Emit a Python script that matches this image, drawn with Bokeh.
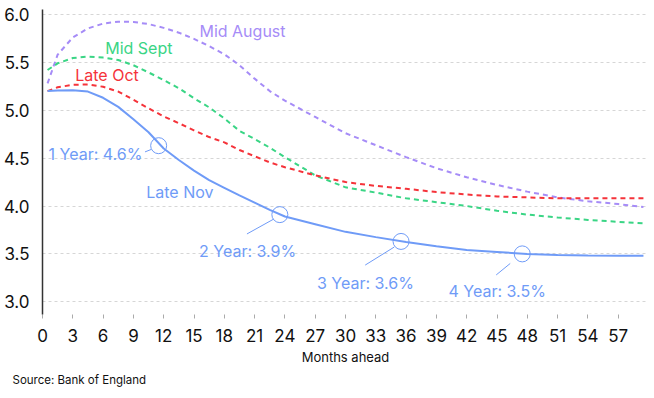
from bokeh.plotting import figure
from bokeh.models import Range1d, FixedTicker, PrintfTickFormatter, Label, Title
from bokeh.embed import file_html
from bokeh.resources import INLINE

months = [0.5, 1.5, 3, 4.5, 6, 7.5, 9, 10.5, 12, 13.5, 15, 16.5, 18, 19.5, 21, 22.5, 24,
          27, 30, 33, 36, 39, 42, 45, 48, 51, 54, 57, 59.5]
mid_august = [5.28, 5.58, 5.76, 5.855, 5.905, 5.925, 5.922, 5.90, 5.86, 5.81, 5.745, 5.67, 5.585,
              5.47, 5.33, 5.20, 5.10, 4.93, 4.76, 4.635, 4.51, 4.395, 4.30, 4.22, 4.15, 4.09,
              4.05, 4.02, 3.99]
mid_sept = [5.42, 5.49, 5.545, 5.56, 5.55, 5.525, 5.47, 5.395, 5.315, 5.23, 5.125, 5.03, 4.915,
            4.785, 4.70, 4.61, 4.51, 4.32, 4.195, 4.14, 4.08, 4.04, 4.00, 3.95, 3.91, 3.88,
            3.855, 3.835, 3.82]
late_oct = [5.20, 5.24, 5.265, 5.27, 5.245, 5.195, 5.11, 5.02, 4.935, 4.865, 4.79, 4.72, 4.665,
            4.585, 4.52, 4.455, 4.405, 4.32, 4.25, 4.21, 4.18, 4.145, 4.12, 4.10, 4.09, 4.08,
            4.08, 4.08, 4.08]
late_nov = [5.20, 5.205, 5.21, 5.195, 5.13, 5.035, 4.905, 4.77, 4.60, 4.48, 4.37, 4.27, 4.19,
            4.11, 4.035, 3.96, 3.89, 3.81, 3.73, 3.675, 3.625, 3.58, 3.54, 3.52, 3.50, 3.488,
            3.482, 3.48, 3.48]

marker_months = [11.5, 23.5, 35.5, 47.5]
marker_values = [4.63, 3.91, 3.63, 3.50]
marker_labels = ["1 Year: 4.6%", "2 Year: 3.9%", "3 Year: 3.6%", "4 Year: 3.5%"]

x_ticks = list(range(0, 58, 3))
y_ticks = [3.0, 3.5, 4.0, 4.5, 5.0, 5.5, 6.0]

FONT = "Inter"
PURPLE = "#a68cf7"
GREEN = "#3ad585"
RED = "#f5333a"
BLUE = "#6f9bf7"

p = figure(frame_width=606, frame_height=305, output_backend="svg", toolbar_location=None,
           x_range=Range1d(0, 60), y_range=Range1d(2.867, 6.052),
           min_border_left=34, min_border_right=4, min_border_top=9, min_border_bottom=0)
p.outline_line_color = None
p.background_fill_color = "white"
p.border_fill_color = "white"

p.xgrid.grid_line_color = None
p.ygrid.grid_line_color = "#d6d6d6"
p.ygrid.grid_line_dash = "3 3"
p.ygrid.grid_line_width = 1

p.yaxis.ticker = FixedTicker(ticks=y_ticks)
p.yaxis.formatter = PrintfTickFormatter(format="%.1f")
p.yaxis.axis_line_color = "#333333"
p.yaxis.axis_line_width = 1.5
p.yaxis.major_tick_line_color = None
p.yaxis.minor_tick_line_color = None
p.yaxis.major_label_text_font = FONT
p.yaxis.major_label_text_font_size = "17px"
p.yaxis.major_label_text_color = "#111111"
p.yaxis.major_label_standoff = 7

p.xaxis.ticker = FixedTicker(ticks=x_ticks)
p.xaxis.axis_line_color = None
p.xaxis.major_tick_line_color = "#aaaaaa"
p.xaxis.major_tick_out = 4
p.xaxis.major_tick_in = 0
p.xaxis.minor_tick_line_color = None
p.xaxis.major_label_text_font = FONT
p.xaxis.major_label_text_font_size = "17px"
p.xaxis.major_label_text_color = "#111111"
p.xaxis.major_label_standoff = 10
p.xaxis.axis_label = "Months ahead"
p.xaxis.axis_label_text_font = FONT
p.xaxis.axis_label_text_font_size = "13px"
p.xaxis.axis_label_text_font_style = "normal"
p.xaxis.axis_label_text_color = "#111111"
p.xaxis.axis_label_standoff = 4

src = Title(text="Source: Bank of England", align="left", offset=-30,
            text_font=FONT, text_font_size="11.5px", text_font_style="normal",
            text_color="#111111", standoff=6)
p.add_layout(src, "below")

p.line(months, mid_august, line_color=PURPLE, line_width=2, line_dash="5 4")
p.line(months, mid_sept, line_color=GREEN, line_width=2, line_dash="5 4")
p.line(months, late_oct, line_color=RED, line_width=2, line_dash="5 4")
p.line(months, late_nov, line_color=BLUE, line_width=2)

p.scatter(marker_months, marker_values, size=16, fill_color=None, line_color=BLUE, line_width=1)

leaders = [((10.15, 10.75), (4.565, 4.59)),
           ((20.24, 22.87), (3.708, 3.862)),
           ((31.95, 34.82), (3.383, 3.571)),
           ((44.92, 46.31), (3.28, 3.40))]
for xs, ys in leaders:
    p.line(list(xs), list(ys), line_color=BLUE, line_width=1)

label_pos = [(0.6, 4.54), (15.5, 3.527), (27.17, 3.20), (40.2, 3.109)]
for (lx, ly), txt in zip(label_pos, marker_labels):
    p.add_layout(Label(x=lx, y=ly, text=txt, text_font=FONT, text_font_size="16px",
                       text_color=BLUE, text_baseline="middle", text_align="left"))

series_labels = [("Mid August", 15.54, 5.823, PURPLE), ("Mid Sept", 6.21, 5.649, GREEN),
                 ("Late Oct", 3.24, 5.368, RED), ("Late Nov", 10.27, 4.143, BLUE)]
for txt, lx, ly, col in series_labels:
    p.add_layout(Label(x=lx, y=ly, text=txt, text_font=FONT, text_font_size="16px",
                       text_color=col, text_baseline="middle", text_align="left"))

open("out.html", "w").write(file_html(p, INLINE))
